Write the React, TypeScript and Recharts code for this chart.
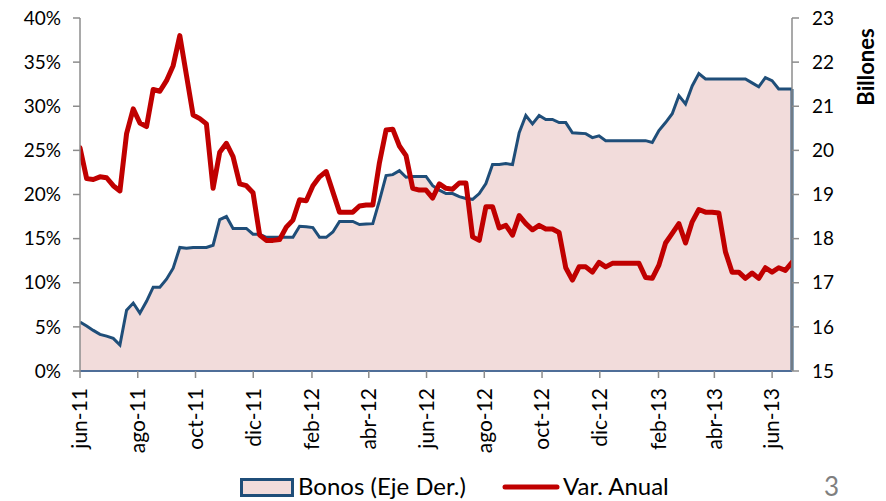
import React from 'react';
import { ComposedChart, Area, Line, XAxis, YAxis, ReferenceLine, Legend } from 'recharts';

const monthLabels = ['jun-11', 'ago-11', 'oct-11', 'dic-11', 'feb-12', 'abr-12', 'jun-12', 'ago-12', 'oct-12', 'dic-12', 'feb-13', 'abr-13', 'jun-13'];
const monthDays = [0, 61, 122, 183, 245, 305, 366, 427, 488, 549, 611, 670, 731];

const varAnual = [
  25.3, 21.8, 21.7, 22.0, 21.9, 21.0, 20.4, 26.9, 29.7, 28.1,
  27.7, 31.9, 31.7, 32.9, 34.6, 38.0, 33.5, 29.0, 28.6, 28.0,
  20.7, 24.8, 25.8, 24.3, 21.2, 21.0, 20.2, 15.4, 14.8, 14.8,
  14.9, 16.3, 17.1, 19.4, 19.3, 21.0, 22.0, 22.6, 20.3, 18.0,
  18.0, 18.0, 18.7, 18.8, 18.8, 23.6, 27.3, 27.4, 25.5, 24.4,
  20.7, 20.5, 20.5, 19.6, 21.2, 20.7, 20.6, 21.3, 21.3, 15.2,
  14.8, 18.6, 18.6, 16.2, 16.5, 15.4, 17.6, 16.7, 16.0, 16.5,
  16.1, 16.1, 15.7, 11.7, 10.3, 11.8, 11.8, 11.2, 12.3, 11.8,
  12.2, 12.2, 12.2, 12.2, 12.2, 10.6, 10.5, 12.0, 14.5, 15.6,
  16.7, 14.5, 16.9, 18.3, 18.0, 18.0, 17.9, 13.5, 11.2, 11.2,
  10.5, 11.1, 10.5, 11.7, 11.2, 11.7, 11.4, 12.3,
];

const bonos = [
  16.11, 16.02, 15.92, 15.83, 15.79, 15.74, 15.59, 16.38, 16.54, 16.31,
  16.58, 16.90, 16.90, 17.08, 17.33, 17.80, 17.78, 17.80, 17.80, 17.80,
  17.85, 18.43, 18.50, 18.23, 18.23, 18.23, 18.10, 18.10, 18.03, 18.03,
  18.03, 18.03, 18.03, 18.28, 18.27, 18.25, 18.03, 18.03, 18.15, 18.39,
  18.39, 18.39, 18.32, 18.33, 18.34, 18.86, 19.43, 19.45, 19.54, 19.39,
  19.41, 19.41, 19.41, 19.20, 19.10, 19.02, 19.02, 18.95, 18.91, 18.89,
  19.02, 19.25, 19.68, 19.68, 19.70, 19.68, 20.40, 20.79, 20.60, 20.79,
  20.70, 20.70, 20.63, 20.63, 20.40, 20.39, 20.38, 20.29, 20.33, 20.22,
  20.22, 20.22, 20.22, 20.22, 20.22, 20.22, 20.18, 20.45, 20.63, 20.83,
  21.24, 21.05, 21.46, 21.74, 21.62, 21.62, 21.62, 21.62, 21.62, 21.62,
  21.62, 21.53, 21.44, 21.65, 21.58, 21.39, 21.39, 21.39,
];

const leftTicks = [0, 5, 10, 15, 20, 25, 30, 35, 40];
const rightTicks = [15, 16, 17, 18, 19, 20, 21, 22, 23];

const DAY_STEP = 752 / 107;
const data = bonos.map((b, i) => ({ day: i * DAY_STEP, bonos: b, varAnual: varAnual[i] }));
const lastDay = (bonos.length - 1) * DAY_STEP;

const FONT = 'Lato, "Liberation Sans", sans-serif';
const BLUE = '#1F4E79';
const RED = '#C00000';
const FILL = '#F2DCDB';
const GREY = '#8C8C8C';

const XTick = (props: any) => {
  const { x, y, payload } = props;
  const idx = monthDays.indexOf(payload.value);
  const label = idx >= 0 ? monthLabels[idx] : '';
  return (
    <text
      x={x}
      y={y}
      transform={`rotate(-90, ${x}, ${y})`}
      textAnchor="end"
      dy="0.35em"
      fontSize={21}
      fill="#000"
      fontFamily={FONT}
    >
      {label}
    </text>
  );
};

const BillonesLabel = (props: any) => {
  const vb = props.viewBox || { x: 792, y: 18 };
  const cx = vb.x + 73;
  const cy = vb.y + 49;
  return (
    <text
      x={cx}
      y={cy}
      transform={`rotate(-90, ${cx}, ${cy})`}
      textAnchor="middle"
      dominantBaseline="central"
      fontSize={22}
      fontWeight="bold"
      fill="#000"
      fontFamily={FONT}
    >
      Billones
    </text>
  );
};

const LegendContent = () => (
  <svg width={886} height={34} style={{ display: 'block' }}>
    <rect x={241.5} y={8.5} width={51} height={16} fill={FILL} stroke={BLUE} strokeWidth={3} />
    <text x={298} y={24} fontSize={24} fill="#000" fontFamily={FONT}>Bonos (Eje Der.)</text>
    <line x1={505} x2={557} y1={16} y2={16} stroke={RED} strokeWidth={5} strokeLinecap="round" />
    <text x={563} y={24} fontSize={24} fill="#000" fontFamily={FONT}>Var. Anual</text>
    <text x={824} y={25} fontSize={26} fill="#7F7F7F" fontFamily={FONT}>3</text>
  </svg>
);

export default function App() {
  return (
    <div style={{ position: 'absolute', left: 0, top: 0, width: 886, height: 501, background: '#fff', fontFamily: FONT }}>
      <ComposedChart width={886} height={501} data={data} margin={{ top: 18, right: 0, bottom: 0, left: 0 }}>
        <Area
          yAxisId="right"
          type="linear"
          dataKey="bonos"
          stroke={BLUE}
          strokeWidth={3}
          fill={FILL}
          fillOpacity={1}
          isAnimationActive={false}
          dot={false}
          activeDot={false}
        />
        <XAxis
          dataKey="day"
          type="number"
          domain={[0, lastDay]}
          ticks={monthDays}
          interval={0}
          tick={<XTick />}
          tickSize={7}
          tickMargin={10}
          height={130}
          axisLine={{ stroke: '#4F6E98', strokeWidth: 2 }}
          tickLine={{ stroke: GREY, strokeWidth: 1.5 }}
          allowDataOverflow
        />
        <YAxis
          yAxisId="left"
          orientation="left"
          domain={[0, 40]}
          ticks={leftTicks}
          interval={0}
          width={80}
          tickSize={7}
          tickMargin={12}
          tickFormatter={(v: number) => `${v}%`}
          tick={{ fontSize: 19, fill: '#000', fontFamily: FONT }}
          axisLine={{ stroke: GREY, strokeWidth: 1.5 }}
          tickLine={{ stroke: GREY, strokeWidth: 1.5 }}
        />
        <YAxis
          yAxisId="right"
          orientation="right"
          domain={[15, 23]}
          ticks={rightTicks}
          interval={0}
          width={94}
          tickSize={7}
          tickMargin={13}
          tick={{ fontSize: 19, fill: '#000', fontFamily: FONT }}
          axisLine={{ stroke: GREY, strokeWidth: 1.5 }}
          tickLine={{ stroke: GREY, strokeWidth: 1.5 }}
          label={BillonesLabel}
        />
        <ReferenceLine
          yAxisId="right"
          segment={[{ x: lastDay, y: 15 }, { x: lastDay, y: bonos[bonos.length - 1] }]}
          stroke={BLUE}
          strokeWidth={3}
          ifOverflow="visible"
        />
        <Line
          yAxisId="left"
          type="linear"
          dataKey="varAnual"
          stroke={RED}
          strokeWidth={5}
          strokeLinejoin="round"
          strokeLinecap="round"
          dot={false}
          activeDot={false}
          isAnimationActive={false}
        />
        <Legend
          layout="horizontal"
          verticalAlign="middle"
          align="center"
          content={<LegendContent />}
          wrapperStyle={{ position: 'absolute', left: 0, top: 471, width: 886, height: 34 }}
        />
      </ComposedChart>
    </div>
  );
}
